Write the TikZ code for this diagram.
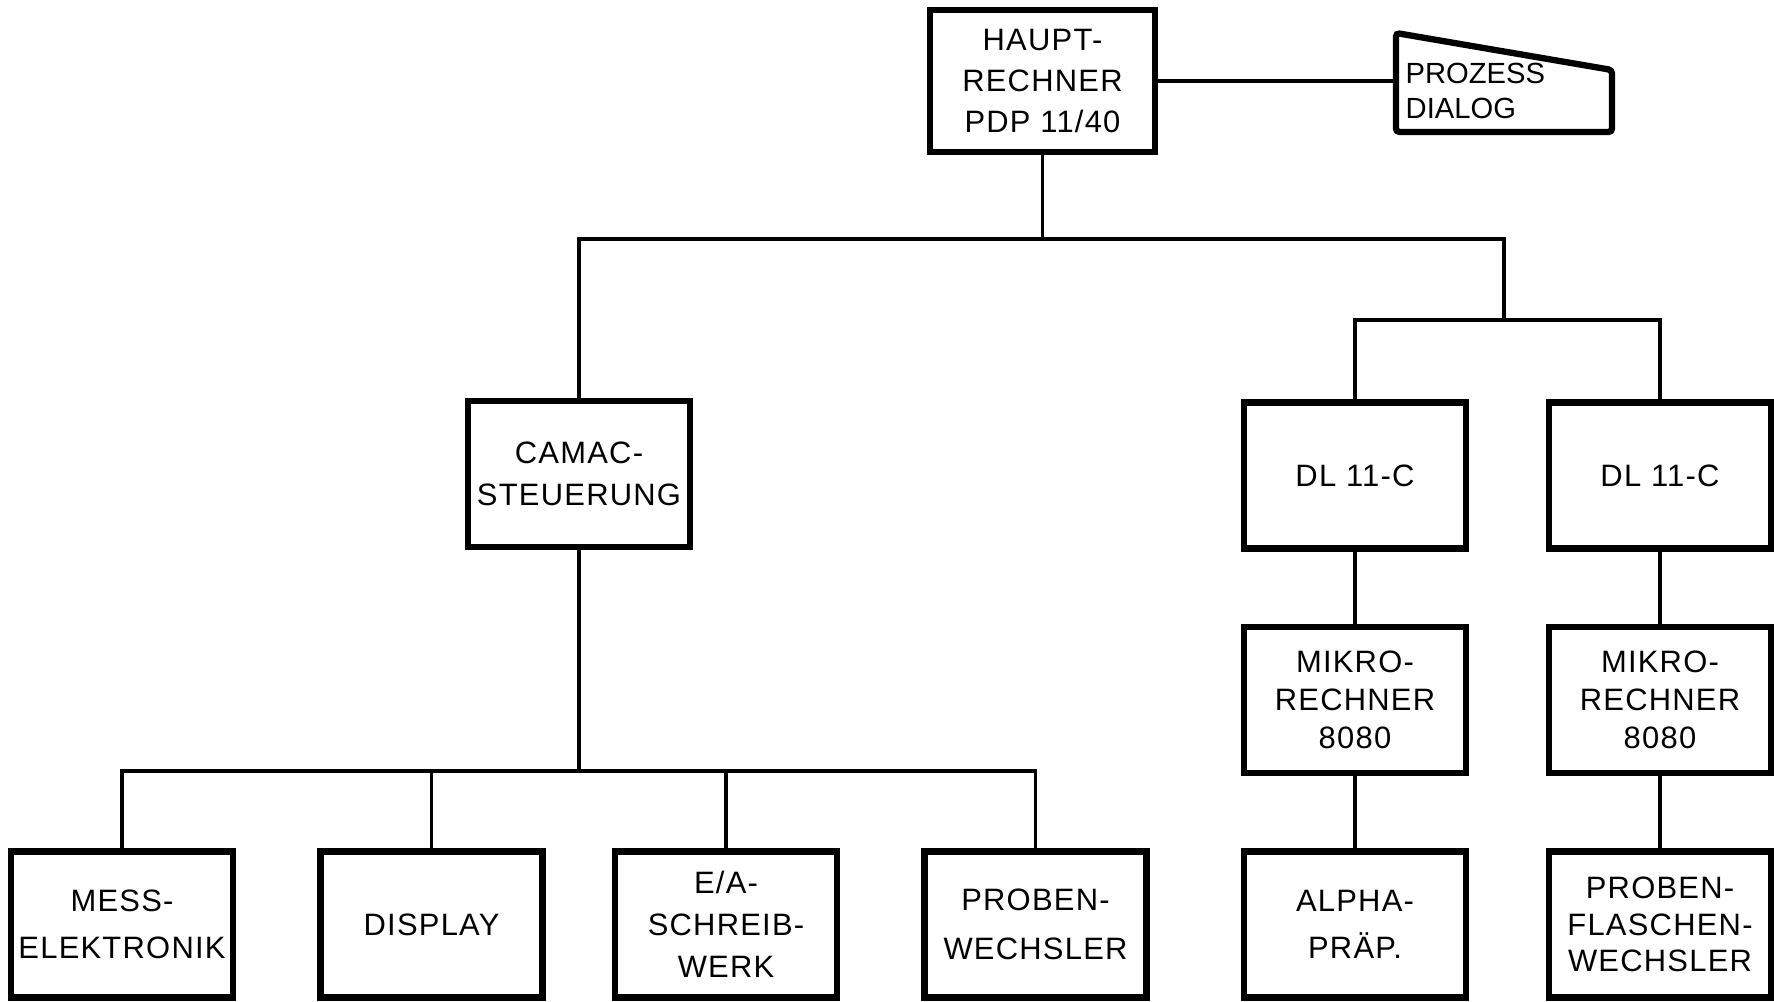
\documentclass[tikz,border=0pt]{standalone}
\usepackage{fontspec}
\setmainfont{Liberation Sans}[LetterSpace=4]
\usetikzlibrary{calc}
\tikzset{
  unit/.style={draw,line width=1.8pt,minimum width=2.22cm,minimum height=1.46cm,
    inner sep=0pt,align=center,font=\fontsize{8.8}{10.9}\selectfont},
  unitwide/.style={unit,font=\fontsize{8.8}{13.3}\selectfont},
  wire/.style={line width=1.1pt}
}

\begin{document}
\begin{tikzpicture}[y=-1cm]
  \useasboundingbox (0,0) rectangle (17.74,10.02);
  % Hauptrechner und Prozessdialog
  \node[unit,minimum width=2.25cm,minimum height=1.42cm,font=\fontsize{8.8}{11.6}\selectfont] (haupt) at (10.425,0.81) {HAUPT-\\RECHNER\\PDP 11/40};
  \coordinate (pdtl) at (13.96,0.33);
  \coordinate (pdtr) at (16.12,0.70);
  \coordinate (pdbr) at (16.12,1.32);
  \coordinate (pdbl) at (13.96,1.32);
  \draw[line width=1.8pt,rounded corners=1pt] (pdtl) -- (pdtr) -- (pdbr) -- (pdbl) -- cycle;
  \node[anchor=west,inner sep=0pt,align=left,font=\fontsize{8.3}{9.7}\selectfont\addfontfeatures{LetterSpace=0}] (dialog) at (14.05,0.91) {PROZESS\\DIALOG};
  \draw[wire] (haupt.east) -- (haupt.east -| pdtl);

  % CAMAC-Zweig
  \node[unit,font=\fontsize{8.8}{11.8}\selectfont] (camac) at (5.79,4.74) {CAMAC-\\STEUERUNG};
  \node[unitwide] (mess) at (1.22,9.245) {MESS-\\ELEKTRONIK};
  \node[unit] (display) at (4.315,9.245) {DISPLAY};
  \node[unit,font=\fontsize{8.8}{12}\selectfont] (ea) at (7.26,9.245) {E/A-\\SCHREIB-\\WERK};
  \node[unitwide,font=\fontsize{8.8}{13.8}\selectfont] (proben) at (10.355,9.245) {PROBEN-\\WECHSLER};

  % Mikrorechner-Zweige
  \node[unit] (dlA) at (13.55,4.755) {DL 11-C};
  \node[unit] (dlB) at (16.60,4.755) {DL 11-C};
  \node[unit] (mikroA) at (13.55,7.0) {MIKRO-\\RECHNER\\8080};
  \node[unit] (mikroB) at (16.60,7.0) {MIKRO-\\RECHNER\\8080};
  \node[unitwide] (alpha) at (13.55,9.245) {ALPHA-\\PRÄP.};
  \node[unit,font=\fontsize{8.8}{10.4}\selectfont] (flaschen) at (16.60,9.245) {PROBEN-\\FLASCHEN-\\WECHSLER};

  \coordinate (bus) at (10.425,2.39);
  \coordinate (split) at (15.04,3.20);
  \coordinate (cbus) at (5.79,7.71);
  \draw[wire] (haupt.south) -- (bus);
  \draw[wire] (camac.north) |- (split |- bus) -- (split);
  \draw[wire] (dlA.north) |- (split) -| (dlB.north);
  \draw[wire] (camac.south) -- (cbus);
  \draw[wire] (mess.north) |- (cbus -| proben.north) -- (proben.north);
  \foreach \n in {display,ea}
    \draw[wire] (\n.north) -- (\n.north |- cbus);
  \foreach \c in {A,B}{
    \draw[wire] (dl\c.south) -- (mikro\c.north);
  }
  \draw[wire] (mikroA.south) -- (alpha.north);
  \draw[wire] (mikroB.south) -- (flaschen.north);
\end{tikzpicture}
\end{document}
